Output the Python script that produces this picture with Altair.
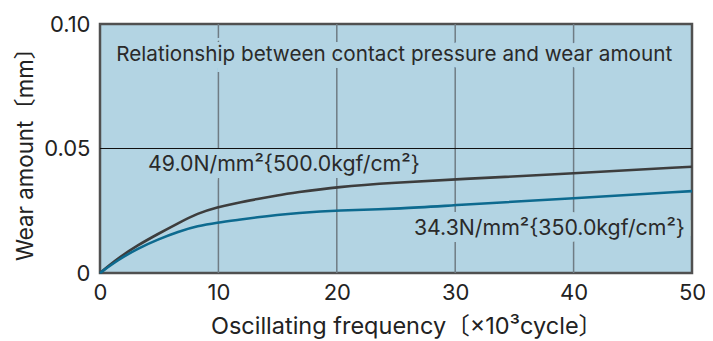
import altair as alt
import pandas as pd

# Data
high_x = [0, 1.5, 3.2, 4.9, 6.6, 8.25, 9.9, 11.6, 13.3, 15, 16.5, 20, 25, 30, 40, 50]
high_vals = [0, 0.0059, 0.0112, 0.0157, 0.0200, 0.0240, 0.0264, 0.0282, 0.0297, 0.0312, 0.0323,
             0.0346, 0.0363, 0.0376, 0.0400, 0.0427]
low_x = [0, 1.5, 3.2, 4.9, 6.6, 8.25, 9.9, 11.6, 13.3, 15, 16.5, 20, 25.6, 30, 40, 50]
low_vals = [0, 0.0052, 0.0099, 0.0135, 0.0166, 0.0189, 0.0202, 0.0213, 0.0224, 0.0233, 0.0240,
            0.0252, 0.0258, 0.0273, 0.0300, 0.0329]
series_names = ["49.0N/mm²{500.0kgf/cm²}", "34.3N/mm²{350.0kgf/cm²}"]
x_ticks = [0, 10, 20, 30, 40, 50]
y_ticks = [0, 0.05, 0.10]
grid_x = [10, 20, 30, 40]
title_text = "Relationship between contact pressure and wear amount"

FONT = "Inter, Noto Sans CJK JP"
BG = "#b3d4e3"
DARK = "#3d3d3d"
BLUE = "#0d6a8f"

df = pd.DataFrame(
    [{"x": a, "y": b, "s": series_names[0]} for a, b in zip(high_x, high_vals)]
    + [{"x": a, "y": b, "s": series_names[1]} for a, b in zip(low_x, low_vals)]
)
grid_df = pd.DataFrame({"x": grid_x})
hline_df = pd.DataFrame({"y": [0.05]})
ann_df = pd.DataFrame([
    {"x": 24.85, "y": 0.0876, "t": title_text, "a": "center", "fs": 20.7},
    {"x": 4.05, "y": 0.0435, "t": series_names[0], "a": "left", "fs": 21.3},
    {"x": 49.4, "y": 0.0178, "t": series_names[1], "a": "right", "fs": 21.3},
])

xs = alt.Scale(domain=[0, 50], nice=False)
ys = alt.Scale(domain=[0, 0.10], nice=False)

x_axis = alt.Axis(values=x_ticks, title="Oscillating frequency〔×10³cycle〕", grid=False,
                  domain=False, ticks=False, labelPadding=9, titlePadding=11, labelFlush=False,
                  titleX=306,
                  labelFontSize=22, titleFontSize=23.5, labelFont=FONT, titleFont=FONT,
                  labelColor="#222", titleColor="#222", titleFontWeight="normal")
y_axis = alt.Axis(values=y_ticks, title="Wear amount〔mm〕", grid=False,
                  domain=False, ticks=False, labelPadding=10, titlePadding=6, labelFlush=False,
                  labelExpr="datum.value == 0 ? '0' : format(datum.value, '.2f')",
                  labelFontSize=22, titleFontSize=22.3, labelFont=FONT, titleFont=FONT,
                  labelColor="#222", titleColor="#222", titleFontWeight="normal")

base_axes = alt.Chart(df).mark_line(opacity=0).encode(
    x=alt.X("x:Q", scale=xs, axis=x_axis),
    y=alt.Y("y:Q", scale=ys, axis=y_axis),
)

grid = alt.Chart(grid_df).mark_rule(color="#6f7c84", strokeWidth=1.5).encode(
    x=alt.X("x:Q", scale=xs)
)
hline = alt.Chart(hline_df).mark_rule(color="#111", strokeWidth=1).encode(
    y=alt.Y("y:Q", scale=ys)
)

def text_layer(align, halo):
    sub = ann_df[ann_df["a"] == align]
    kw = dict(align=align, baseline="middle", font=FONT)
    if halo:
        m = alt.Chart(sub).mark_text(color=BG, stroke=BG, strokeWidth=14, **kw)
    else:
        m = alt.Chart(sub).mark_text(color="#2a2a2a", **kw)
    return m.encode(x=alt.X("x:Q", scale=xs), y=alt.Y("y:Q", scale=ys), text="t:N",
                    size=alt.Size("fs:Q", scale=None, legend=None))

halos = [text_layer(a, True) for a in ["center", "left", "right"]]
texts = [text_layer(a, False) for a in ["center", "left", "right"]]

lines = alt.Chart(df).mark_line(strokeWidth=2.6, interpolate="basis").encode(
    x=alt.X("x:Q", scale=xs),
    y=alt.Y("y:Q", scale=ys),
    color=alt.Color("s:N", scale=alt.Scale(domain=series_names, range=[DARK, BLUE]), legend=None),
)

chart = alt.layer(base_axes, grid, *halos, hline, lines, *texts).properties(
    width=592, height=249,
    autosize=alt.AutoSizeParams(type="none"),
    padding={"left": 92, "top": 16, "right": 13, "bottom": 68},
).configure_view(fill=BG, stroke="#505050", strokeWidth=2.5)

chart.save("out.html", embed_options={"renderer": "svg", "actions": False})
